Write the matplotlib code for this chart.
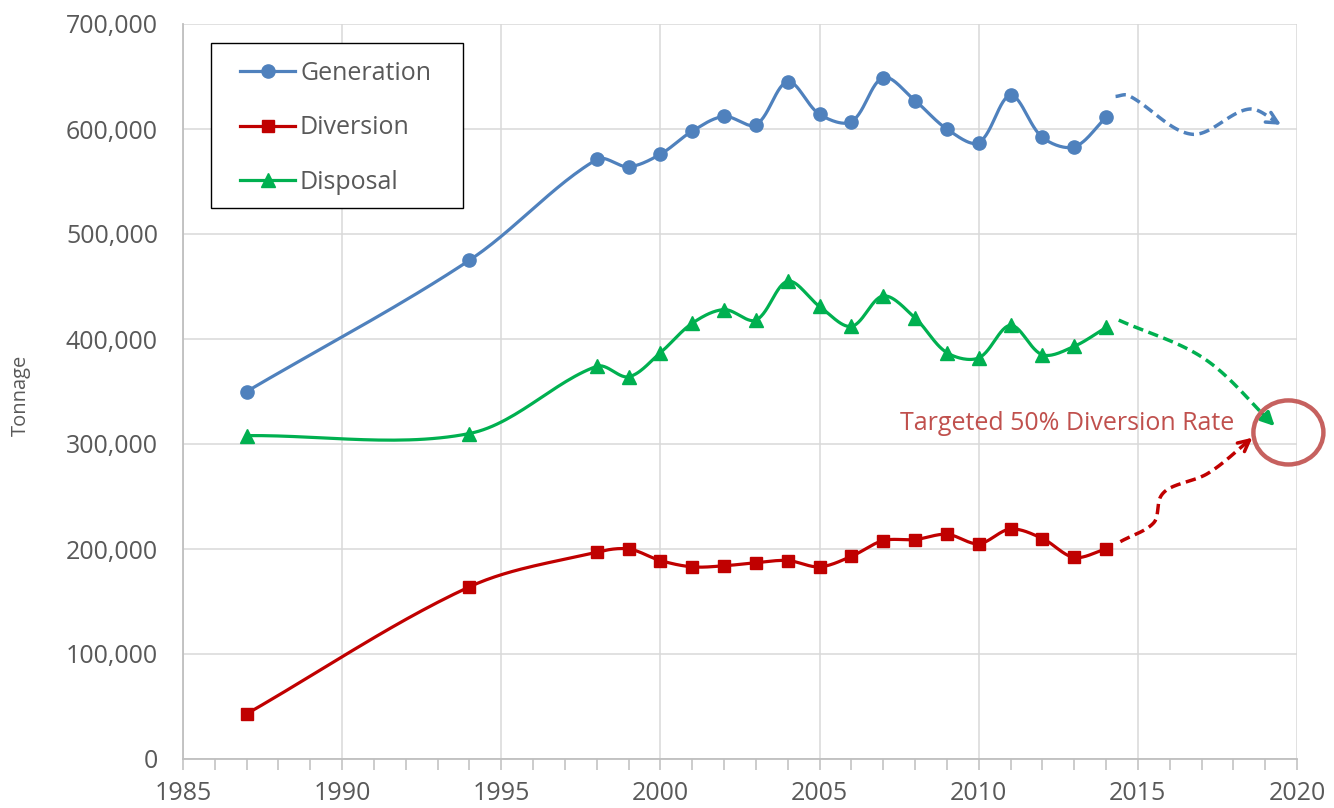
import matplotlib
matplotlib.use('Agg')
import numpy as np
import matplotlib.pyplot as plt
from matplotlib.patches import Ellipse, Rectangle
from matplotlib.ticker import FuncFormatter, MultipleLocator

years = [1987, 1994, 1998, 1999, 2000, 2001, 2002, 2003, 2004, 2005, 2006,
         2007, 2008, 2009, 2010, 2011, 2012, 2013, 2014]
generation = [350000, 475000, 571000, 564000, 576000, 598000, 612000, 604000,
              645000, 614000, 607000, 649000, 627000, 600000, 587000, 632000,
              592000, 583000, 611000]
diversion = [43000, 164000, 197000, 200000, 189000, 183000, 184000, 187000,
             189000, 183000, 193000, 208000, 209000, 214000, 205000, 219000,
             210000, 192000, 200000]
disposal = [308000, 310000, 374000, 364000, 387000, 415000, 428000, 418000,
            455000, 431000, 412000, 441000, 420000, 387000, 382000, 413000,
            385000, 393000, 411000]

# hand drawn projection arrows (way points)
gen_proj_x = [2014.3, 2014.7, 2016.7, 2018.5, 2019.5]
gen_proj_y = [631000, 632000, 595000, 619000, 604000]
disp_proj_x = [2014.4, 2017.1, 2019.3]
disp_proj_y = [418000, 381000, 317000]
div_proj_x = [2014.45, 2015.5, 2015.7, 2016.0, 2017.2, 2018.6]
div_proj_y = [207000, 225000, 249000, 258000, 272000, 306000]

target_label = 'Targeted 50% Diversion Rate'

BLUE = '#4F81BD'
RED = '#C00000'
GREEN = '#00B050'
TXT = '#595959'
FONT = ['Open Sans', 'DejaVu Sans']

# rough pixel scale of the plot, used so the smoothing works in screen space
PX_PER_YEAR = 31.85
PX_PER_TON = 1.05e-3


def smooth(xs, ys, n=30):
    # bezier smoothing similar to spreadsheet "smoothed line"
    p = np.column_stack([xs, ys]).astype(float)
    scale = np.array([PX_PER_YEAR, PX_PER_TON])
    p = np.vstack([p[0], p, p[-1]])
    out = []
    for i in range(1, len(p) - 2):
        p0, p1, p2, p3 = p[i - 1], p[i], p[i + 1], p[i + 2]
        d01 = np.linalg.norm((p1 - p0) * scale)
        d12 = np.linalg.norm((p2 - p1) * scale)
        d23 = np.linalg.norm((p3 - p2) * scale)
        f1 = d12 / (d01 + d12) if d01 + d12 > 0 else 0.5
        f2 = d12 / (d12 + d23) if d12 + d23 > 0 else 0.5
        c1 = p1 + (p2 - p0) * f1 / 3.0
        c2 = p2 - (p3 - p1) * f2 / 3.0
        t = np.linspace(0, 1, n)[:, None]
        seg = ((1 - t) ** 3) * p1 + 3 * ((1 - t) ** 2) * t * c1 \
            + 3 * (1 - t) * t ** 2 * c2 + t ** 3 * p2
        out.append(seg if i == 1 else seg[1:])
    out = np.vstack(out)
    return out[:, 0], out[:, 1]


plt.rcParams['font.family'] = FONT
fig = plt.figure(figsize=(13.34, 8.08), dpi=100)
ax = fig.add_axes([183 / 1334, 49 / 808, 1114 / 1334, 735 / 808])

series = [('Generation', generation, BLUE, 'o', 9.5),
          ('Diversion', diversion, RED, 's', 9),
          ('Disposal', disposal, GREEN, '^', 10)]
for name, vals, col, mk, ms in series:
    sx, sy = smooth(years, vals)
    ax.plot(sx, sy, color=col, lw=2.3, zorder=3, solid_capstyle='round')
    ax.plot(years, vals, linestyle='none', marker=mk, color=col, ms=ms, zorder=4)
    # legend proxy
    ax.plot([], [], color=col, lw=2.3, marker=mk, ms=ms, label=name)

# projection arrows
for px, py, col, style in [(gen_proj_x, gen_proj_y, BLUE, '->'),
                           (disp_proj_x, disp_proj_y, GREEN, '-|>'),
                           (div_proj_x, div_proj_y, RED, '->')]:
    sx, sy = smooth(px, py)
    ax.plot(sx[:-3], sy[:-3], color=col, lw=2.5, ls=(0, (3, 1.6)), zorder=3,
            clip_on=False)
    ax.annotate('', xy=(sx[-1], sy[-1]), xytext=(sx[-6], sy[-6]),
                arrowprops=dict(arrowstyle=style + ',head_length=0.8,head_width=0.4',
                                color=col, lw=2.5, shrinkA=0, shrinkB=0),
                zorder=4, annotation_clip=False)

ax.add_patch(Ellipse((2019.73, 311000), 2.2, 61000, fill=False,
                     edgecolor='#C0504D', lw=3.2, alpha=0.9, zorder=5,
                     clip_on=False))
ax.text(2018.03, 320000, target_label, color='#C0504D', fontsize=18,
        ha='right', va='center', zorder=5)

ax.set_xlim(1985, 2020)
ax.set_ylim(0, 700000)
ax.xaxis.set_major_locator(MultipleLocator(5))
ax.xaxis.set_minor_locator(MultipleLocator(1))
ax.yaxis.set_major_locator(MultipleLocator(100000))
ax.yaxis.set_major_formatter(FuncFormatter(lambda v, p: '{:,}'.format(int(v))))
ax.grid(True, which='major', color='#D9D9D9', lw=1.1)
ax.set_axisbelow(True)
for s in ['top', 'right']:
    ax.spines[s].set_visible(False)
for s in ['left', 'bottom']:
    ax.spines[s].set_color('#BFBFBF')
    ax.spines[s].set_linewidth(1.3)
ax.tick_params(axis='y', length=0, pad=18, labelsize=18, labelcolor=TXT)
ax.tick_params(axis='x', which='both', length=8, color='#BFBFBF', width=1.1,
               pad=8, labelsize=18, labelcolor=TXT)
ax.set_ylabel('Tonnage', fontsize=14.5, color=TXT)
ax.yaxis.set_label_coords(-0.137, 0.495)

# legend with a hand placed frame
ax.add_patch(Rectangle((211 / 1334, 1 - 208 / 808), 252 / 1334, 165 / 808,
                       transform=fig.transFigure, facecolor='white',
                       edgecolor='black', lw=1.0, zorder=6, clip_on=False))
leg = ax.legend(loc='upper left', bbox_to_anchor=(240 / 1334, 1 - 61 / 808),
                bbox_transform=fig.transFigure, fontsize=18, frameon=False,
                handlelength=2.2, labelspacing=1.18, borderpad=0,
                handletextpad=0.2, borderaxespad=0)
leg.set_zorder(7)
for t in leg.get_texts():
    t.set_color(TXT)

fig.savefig('out.png', dpi=100)
